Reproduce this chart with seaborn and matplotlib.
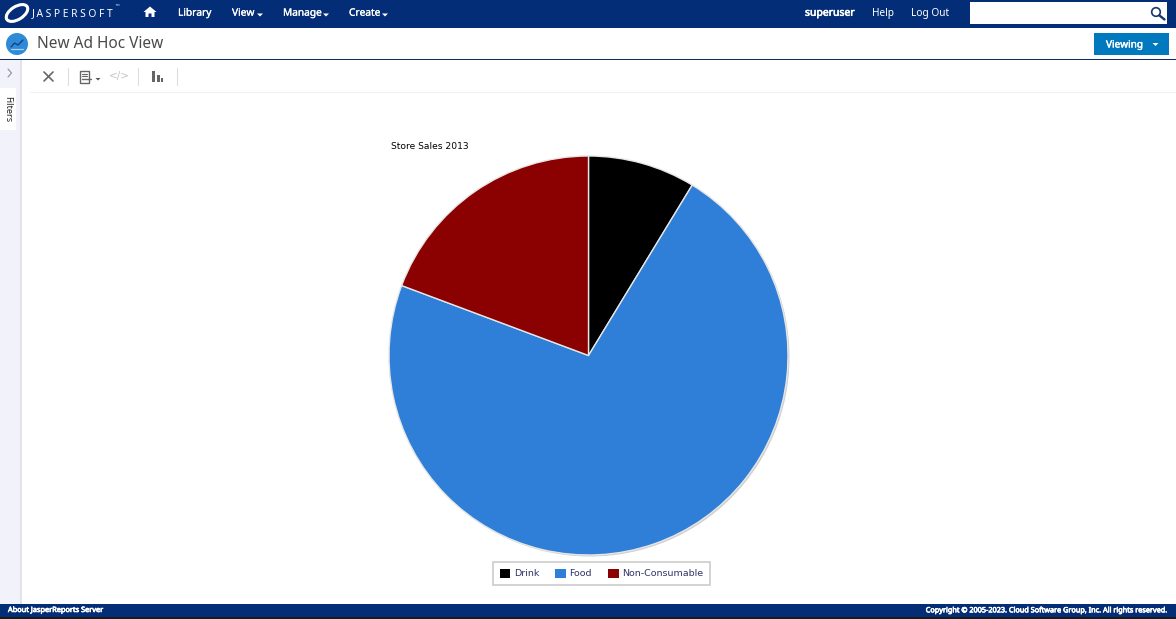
"""
Recreate the Jaspersoft ad hoc view with the Store Sales 2013 pie
"""

import matplotlib
matplotlib.use('Agg')
import matplotlib.pyplot as plt
from matplotlib.patches import Circle, Ellipse, Polygon, Rectangle
import matplotlib.patheffects as pe
import seaborn as sns

categories = ['Drink', 'Food', 'Non-Consumable']
store_sales = [8.7, 72.0, 19.3]
chart_title = 'Store Sales 2013'
nav_left = ['Library', 'View', 'Manage', 'Create']

W, H = 1176, 619
NAVY = '#042d77'
UI_FONT = 'Noto Sans'
palette = sns.color_palette(['#000000', '#2f7ed8', '#8b0000'])
# thin stroke, the installed face has no bold weight to fall back on
BOLD = [pe.withStroke(linewidth=0.45, foreground='white')]


def rect(ax, x, y, w, h, color, z=1):
    ax.add_patch(Rectangle((x, y), w, h, facecolor=color, edgecolor='none', zorder=z))


def draw_caret(ax, x, y, color='white', size=3.5):
    ax.add_patch(Polygon([(x - size, y), (x + size, y), (x, y + size)],
                         facecolor=color, edgecolor='none', zorder=5))


def draw_header(ax):
    rect(ax, 0, 0, W, 28, NAVY)
    # logo
    ax.add_patch(Ellipse((17, 13), 24, 13, angle=-32, facecolor='none',
                         edgecolor='white', linewidth=2.2, zorder=5))
    ax.text(32, 14, 'J A S P E R S O F T', color='white', fontsize=7.4, va='center',
            family=UI_FONT, zorder=5)
    ax.text(114, 7.5, '™', color='white', fontsize=4, va='center', family='DejaVu Sans', zorder=5)
    # home icon
    ax.add_patch(Polygon([(143.5, 12), (150, 6.5), (156.5, 12), (154.5, 12), (154.5, 17),
                          (151.5, 17), (151.5, 13.5), (148.5, 13.5), (148.5, 17),
                          (145.5, 17), (145.5, 12)],
                         facecolor='white', edgecolor='none', zorder=5))
    for label, x in zip(nav_left, [178, 232, 283, 349]):
        ax.text(x, 13.2, label, color='white', fontsize=7.3, va='center', family=UI_FONT,
                path_effects=[pe.withStroke(linewidth=0.2, foreground='white')], zorder=5)
    for x in [260, 326, 385]:
        draw_caret(ax, x, 13.5, size=3)
    ax.text(805, 13.2, 'superuser', color='white', fontsize=7.5, va='center',
            family=UI_FONT, path_effects=BOLD, zorder=5)
    ax.text(872, 13.2, 'Help', color='white', fontsize=7.3, va='center', family=UI_FONT, zorder=5)
    ax.text(911, 13.2, 'Log Out', color='white', fontsize=7.3, va='center', family=UI_FONT, zorder=5)
    # search box
    rect(ax, 970, 2, 197, 22, 'white', z=2)
    ax.add_patch(Circle((1156, 12), 4.3, facecolor='none', edgecolor='#16376f', linewidth=1.2, zorder=5))
    ax.plot([1159.5, 1164.5], [15.5, 19.5], color='#16376f', linewidth=1.7, zorder=5)


def draw_title_bar(ax):
    ax.add_patch(Circle((17, 44), 11, facecolor='#2f8ad8', edgecolor='none', zorder=3))
    ax.plot([11, 14.5, 18, 23], [47, 43, 45, 40], color='#123f7a', linewidth=0.9, zorder=4)
    ax.plot([11, 23], [49, 49], color='#a9d0f0', linewidth=0.9, zorder=4)
    ax.text(37, 43.5, 'New Ad Hoc View', color='#4a4a4a', fontsize=11.1, va='center',
            family=UI_FONT, zorder=5)
    rect(ax, 1094, 33, 75, 22, '#0079be', z=2)
    ax.text(1106, 45, 'Viewing', color='white', fontsize=7.2, va='center',
            family=UI_FONT, path_effects=[pe.withStroke(linewidth=0.3, foreground='white')], zorder=5)
    draw_caret(ax, 1155.5, 43, size=3)
    rect(ax, 0, 59, W, 1, '#0d2c66', z=2)


def draw_toolbar(ax):
    # filters rail
    rect(ax, 0, 60, 22, 544, '#f2f2fb', z=1)
    rect(ax, 20, 60, 2, 544, '#e4e4e8', z=1)
    rect(ax, 0, 88, 16, 42, 'white', z=2)
    ax.plot([8, 11.5, 8], [69, 73, 77], color='#8f8f9c', linewidth=0.8, zorder=4)
    ax.text(7.5, 109, 'Filters', color='#222222', fontsize=6.6, rotation=270,
            ha='center', va='center', family=UI_FONT, zorder=5)
    # toolbar icons
    ax.plot([44, 53], [72, 81], color='#666666', linewidth=1.2, zorder=4)
    ax.plot([44, 53], [81, 72], color='#666666', linewidth=1.2, zorder=4)
    for x in [68, 138, 177]:
        ax.plot([x, x], [68, 85], color='#dddddd', linewidth=0.8, zorder=4)
    ax.add_patch(Rectangle((79.5, 70.5), 9, 12, facecolor='white', edgecolor='#666666',
                           linewidth=1.0, zorder=4))
    for y in [73.5, 76]:
        ax.plot([81.5, 86.5], [y, y], color='#666666', linewidth=0.8, zorder=4)
    ax.plot([81.5, 91], [79, 79], color='#666666', linewidth=1.0, zorder=5)
    draw_caret(ax, 98, 78, color='#555555', size=2.5)
    ax.text(119, 76, '</>', color='#c4c4c4', fontsize=7.5, ha='center', va='center',
            family='DejaVu Sans', zorder=4)
    for x, top, width in [(152, 71, 3), (156.5, 75, 3), (160.5, 78, 2.5)]:
        rect(ax, x, top, width, 82 - top, '#666666', z=4)
    rect(ax, 30, 92, W - 30, 1, '#f0f0f5', z=2)


def draw_footer(ax):
    rect(ax, 0, 604, W, 13, NAVY, z=3)
    rect(ax, 0, 617, W, 2, '#1a1a1a', z=3)
    ax.text(8, 610.5, 'About JasperReports Server', color='white', fontsize=5.3, va='center',
            family=UI_FONT, path_effects=BOLD, zorder=5)
    ax.text(1167, 610.5, 'Copyright © 2005-2023. Cloud Software Group, Inc. All rights reserved.',
            color='white', fontsize=5.25, va='center', ha='right',
            family=UI_FONT, path_effects=BOLD, zorder=5)


def draw_pie(fig):
    # square axes covering the pie, in figure pixels
    cx, cy, r = 588.5, 355.5, 199.5
    pad = 4
    ax = fig.add_axes([(cx - r - pad) / W, 1 - (cy + r + pad) / H,
                       2 * (r + pad) / W, 2 * (r + pad) / H])
    ax.set_axis_off()
    wedges, _ = ax.pie(store_sales, colors=palette, startangle=90, counterclock=False,
                       radius=1.0, wedgeprops={'edgecolor': '#e6e6e6', 'linewidth': 1.0})
    ax.set_xlim(-1 - pad / r, 1 + pad / r)
    ax.set_ylim(-1 - pad / r, 1 + pad / r)
    # soft shadow to the lower right of the pie
    ax.add_patch(Circle((1.5 / r, -1.5 / r), 1.0, facecolor='#cfcfcf', edgecolor='none', zorder=0))
    leg = fig.legend(wedges, categories, ncol=3, loc='center',
                     bbox_to_anchor=(601.5 / W, 1 - 573.5 / H), frameon=True, fancybox=False,
                     edgecolor='#cccccc', facecolor='white', framealpha=1,
                     handlelength=1.15, handleheight=1.15, handletextpad=0.35,
                     columnspacing=1.72, borderpad=0.65, borderaxespad=0,
                     prop={'family': 'DejaVu Sans', 'size': 6.8})
    leg.get_frame().set_linewidth(1.2)
    for text in leg.get_texts():
        text.set_color('#333366')
    for handle in leg.legend_handles:
        handle.set_edgecolor('none')


def main():
    sns.set_theme(style='white')
    plt.rcParams['font.family'] = [UI_FONT, 'DejaVu Sans']

    fig = plt.figure(figsize=(W / 100, H / 100), dpi=100, facecolor='white')
    ui = fig.add_axes([0, 0, 1, 1])
    ui.set_xlim(0, W)
    ui.set_ylim(H, 0)
    ui.set_axis_off()

    draw_header(ui)
    draw_title_bar(ui)
    draw_toolbar(ui)
    draw_footer(ui)
    draw_pie(fig)
    fig.text(391 / W, 1 - 146.8 / H, chart_title, color='black', fontsize=6.6, va='center',
             family='DejaVu Sans')

    fig.savefig('out.png', dpi=100)


if __name__ == "__main__":
    main()
